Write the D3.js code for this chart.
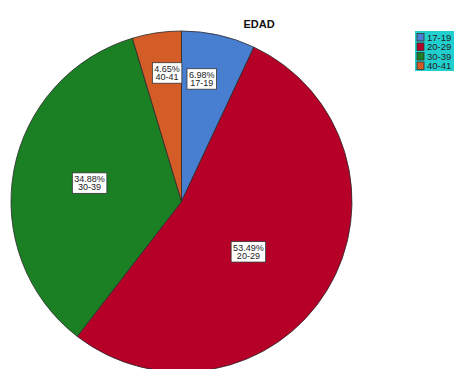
<!DOCTYPE html>
<html>
<head>
<meta charset="utf-8">
<script src="https://cdn.jsdelivr.net/npm/d3@7/dist/d3.min.js"></script>
<style>
html,body{margin:0;padding:0;background:#fff;}
svg{display:block;}
</style>
</head>
<body>
<svg id="chart" width="454" height="369"></svg>
<script>
// ---- data ----
const categories = ["17-19", "20-29", "30-39", "40-41"];
const percents = [6.98, 53.49, 34.88, 4.65];
const title = "EDAD";

// ---- style / layout ----
const colors = ["#5089dc", "#c4002c", "#1f8a2a", "#e4652c"];
const dark = ["#3f74c4", "#a80024", "#16741f", "#c45220"];
const labelRadius = [0.73, 0.49, 0.55, 0.76];
const labelAngleShift = [-3.2, 5.4, 1, 2];

const W = 454, H = 369;
const cx = 181.5, cy = 201.5, R = 170.5;
const svg = d3.select("#chart");

const defs = svg.append("defs");
colors.forEach((c, i) => {
  const p = defs.append("pattern").attr("id", "pat" + i)
    .attr("patternUnits", "userSpaceOnUse").attr("width", 2).attr("height", 2);
  p.append("rect").attr("width", 2).attr("height", 2).attr("fill", c);
  p.append("rect").attr("width", 1).attr("height", 1).attr("fill", dark[i]);
  p.append("rect").attr("x", 1).attr("y", 1).attr("width", 1).attr("height", 1).attr("fill", dark[i]);
});

const pie = d3.pie().sort(null).value(d => d.v);
const arcs = pie(categories.map((c, i) => ({c, v: percents[i], i})));
const arc = d3.arc().innerRadius(0).outerRadius(R);

const g = svg.append("g").attr("transform", `translate(${cx},${cy})`);
g.selectAll("path.slice").data(arcs).enter().append("path")
  .attr("class", "slice")
  .attr("d", arc)
  .attr("fill", d => `url(#pat${d.data.i})`)
  .attr("stroke", "#2a2a2a").attr("stroke-width", 0.8);

// labels
const lab = g.selectAll("g.lab").data(arcs).enter().append("g").attr("class", "lab")
  .attr("transform", d => {
    const a = (d.startAngle + d.endAngle) / 2 + labelAngleShift[d.data.i] * Math.PI / 180;
    const r = R * labelRadius[d.data.i];
    return `translate(${r * Math.sin(a)},${-r * Math.cos(a)})`;
  });
lab.each(function(d) {
  const s = d3.select(this);
  const t1 = d.data.v.toFixed(2) + "%";
  const t2 = d.data.c;
  const txt = s.append("text").attr("font-family", "Liberation Sans, Arial, sans-serif")
    .attr("font-size", 9).attr("fill", "#222").attr("text-anchor", "middle");
  txt.append("tspan").attr("x", 0).attr("y", -1).text(t1);
  txt.append("tspan").attr("x", 0).attr("y", 7.5).text(t2);
  const bb = txt.node().getBBox();
  s.insert("rect", "text")
    .attr("x", bb.x - 2).attr("y", bb.y - 1)
    .attr("width", bb.width + 4).attr("height", bb.height + 2)
    .attr("fill", "#fff").attr("stroke", "#333").attr("stroke-width", 0.8);
});

// title
svg.append("text").attr("x", 259).attr("y", 28)
  .attr("text-anchor", "middle")
  .attr("font-family", "Liberation Sans, Arial, sans-serif")
  .attr("font-weight", "bold").attr("font-size", 11).attr("fill", "#111")
  .text(title);

// legend
const leg = svg.append("g");
leg.append("rect").attr("x", 415).attr("y", 31).attr("width", 40).attr("height", 40)
  .attr("fill", "#22cfcf");
const li = leg.selectAll("g.li").data(categories).enter().append("g").attr("class", "li")
  .attr("transform", (d, i) => `translate(417,${33.5 + i * 9.5})`);
li.append("rect").attr("width", 7).attr("height", 7.5)
  .attr("fill", (d, i) => `url(#pat${i})`).attr("stroke", "#333").attr("stroke-width", 0.8);
li.append("text").attr("x", 10).attr("y", 7.3)
  .attr("font-family", "Liberation Sans, Arial, sans-serif")
  .attr("font-size", 9.5).attr("fill", "#222")
  .text(d => d);
</script>
</body>
</html>
